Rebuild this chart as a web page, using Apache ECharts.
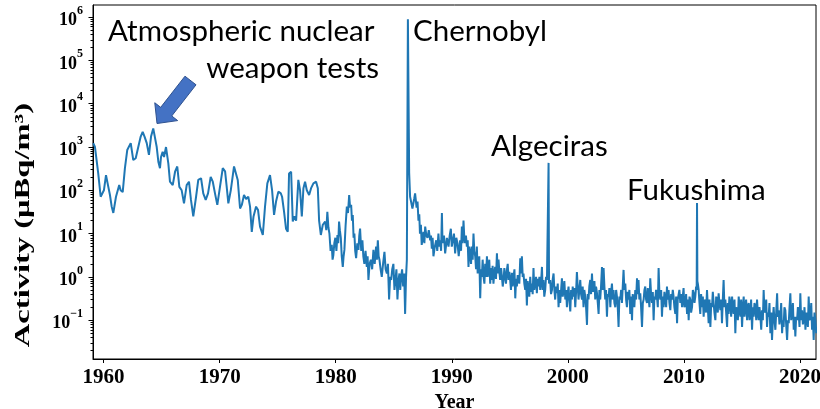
<!DOCTYPE html>
<html>
<head>
<meta charset="utf-8">
<script src="https://cdn.jsdelivr.net/npm/echarts@6/dist/echarts.min.js"></script>
<style>
  html, body { margin: 0; padding: 0; background: #fff; }
  #chart { width: 820px; height: 409px; }
</style>
</head>
<body>
<div id="chart"></div>
<script>
// sampling dates (decimal year) and activity in µBq/m3
const years = [
  1959.11, 1959.26, 1959.54, 1959.75, 1959.92, 1960.03, 1960.21, 1960.41, 1960.55, 1960.70,
  1960.84, 1961.07, 1961.35, 1961.47, 1961.65, 1961.84, 1962.04, 1962.34, 1962.56, 1962.77,
  1962.99, 1963.20, 1963.37, 1963.53, 1963.72, 1963.91, 1964.09, 1964.28, 1964.43, 1964.58,
  1964.72, 1964.86, 1964.95, 1965.09, 1965.21, 1965.38, 1965.58, 1965.72, 1965.96, 1966.16,
  1966.35, 1966.53, 1966.73, 1966.93, 1967.16, 1967.36, 1967.53, 1967.73, 1967.97, 1968.16,
  1968.40, 1968.59, 1968.80, 1969.00, 1969.23, 1969.41, 1969.60, 1969.80, 1970.03, 1970.27,
  1970.47, 1970.61, 1970.75, 1970.96, 1971.24, 1971.41, 1971.56, 1971.76, 1971.91, 1972.10,
  1972.28, 1972.47, 1972.62, 1972.77, 1972.92, 1973.14, 1973.31, 1973.48, 1973.72, 1973.91,
  1974.11, 1974.34, 1974.52, 1974.69, 1974.86, 1975.06, 1975.27, 1975.38, 1975.55, 1975.72,
  1975.87, 1975.98, 1976.16, 1976.30, 1976.44, 1976.59, 1976.78, 1976.93, 1977.08, 1977.22,
  1977.36, 1977.51, 1977.71, 1977.88, 1978.08, 1978.31, 1978.46, 1978.57, 1978.72, 1978.89,
  1979.09, 1979.19, 1979.28, 1979.37, 1979.46, 1979.56, 1979.66, 1979.73, 1979.80, 1979.88,
  1979.97, 1980.06, 1980.15, 1980.22, 1980.29, 1980.36, 1980.44, 1980.52, 1980.61, 1980.68,
  1980.75, 1980.85, 1980.96, 1981.06, 1981.16, 1981.24, 1981.33, 1981.40, 1981.47, 1981.54,
  1981.61, 1981.68, 1981.76, 1981.86, 1981.96, 1982.03, 1982.10, 1982.20, 1982.30, 1982.38,
  1982.47, 1982.57, 1982.68, 1982.75, 1982.82, 1982.92, 1983.03, 1983.14, 1983.25, 1983.36,
  1983.48, 1983.55, 1983.63, 1983.70, 1983.77, 1983.87, 1983.97, 1984.08, 1984.20, 1984.30,
  1984.41, 1984.50, 1984.60, 1984.69, 1984.78, 1984.87, 1984.97, 1985.06, 1985.15, 1985.23,
  1985.32, 1985.40, 1985.49, 1985.56, 1985.64, 1985.72, 1985.81, 1985.90, 1985.98, 1986.06,
  1986.13, 1986.22, 1986.33, 1986.41, 1986.61, 1986.76, 1986.84,
  1986.97, 1987.05, 1987.13, 1987.20, 1987.26, 1987.34, 1987.41, 1987.49, 1987.56, 1987.64,
  1987.71, 1987.81, 1987.91, 1988.02, 1988.14, 1988.21, 1988.28, 1988.35, 1988.42, 1988.54,
  1988.66, 1988.75, 1988.85, 1988.92, 1989.00, 1989.08, 1989.15, 1989.19, 1989.23, 1989.33,
  1989.43, 1989.58, 1989.72, 1989.82, 1989.92, 1990.00, 1990.09, 1990.19, 1990.29, 1990.39,
  1990.49, 1990.60, 1990.72, 1990.80, 1990.87, 1990.94, 1991.01, 1991.08, 1991.15, 1991.22,
  1991.30, 1991.37, 1991.44, 1991.51, 1991.59, 1991.66, 1991.73, 1991.80, 1991.87, 1991.94,
  1992.02, 1992.09, 1992.16, 1992.23, 1992.30, 1992.37, 1992.45, 1992.52, 1992.59, 1992.66,
  1992.74, 1992.81, 1992.88, 1992.95, 1993.03, 1993.09, 1993.16, 1993.23, 1993.31, 1993.38,
  1993.46, 1993.52, 1993.59, 1993.66, 1993.74, 1993.81, 1993.89, 1993.96, 1994.03, 1994.10,
  1994.17, 1994.25, 1994.32, 1994.39, 1994.46, 1994.53, 1994.60, 1994.67, 1994.75, 1994.82,
  1994.89, 1994.96, 1995.03, 1995.10, 1995.18, 1995.25, 1995.32, 1995.40, 1995.47, 1995.54,
  1995.61, 1995.68, 1995.75, 1995.82, 1995.90, 1995.97, 1996.04, 1996.11, 1996.18, 1996.25,
  1996.33, 1996.40, 1996.47, 1996.54, 1996.61, 1996.68, 1996.76, 1996.83, 1996.90, 1996.97,
  1997.04, 1997.11, 1997.19, 1997.26, 1997.33, 1997.40, 1997.47, 1997.55, 1997.62, 1997.70,
  1997.77, 1997.83, 1997.90, 1997.97, 1998.05, 1998.12, 1998.20, 1998.30, 1998.34, 1998.38,
  1998.48, 1998.55, 1998.63, 1998.70, 1998.77, 1998.84, 1998.91, 1998.98, 1999.06, 1999.13,
  1999.20, 1999.27, 1999.34, 1999.41, 1999.49, 1999.56, 1999.63, 1999.70, 1999.78, 1999.85,
  1999.92, 1999.99, 2000.06, 2000.13, 2000.21, 2000.28, 2000.35, 2000.42, 2000.49, 2000.56,
  2000.64, 2000.71, 2000.78, 2000.85, 2000.92, 2000.99, 2001.07, 2001.14, 2001.22, 2001.28,
  2001.35, 2001.42, 2001.50, 2001.57, 2001.65, 2001.71, 2001.78, 2001.85, 2001.93, 2002.00,
  2002.08, 2002.15, 2002.22, 2002.29, 2002.36, 2002.43, 2002.51, 2002.58, 2002.65, 2002.72,
  2002.79, 2002.86, 2002.94, 2003.01, 2003.08, 2003.15, 2003.22, 2003.29, 2003.37, 2003.44,
  2003.51, 2003.58, 2003.66, 2003.73, 2003.80, 2003.87, 2003.94, 2004.01, 2004.09, 2004.16,
  2004.23, 2004.30, 2004.37, 2004.44, 2004.52, 2004.59, 2004.66, 2004.73, 2004.80, 2004.87,
  2004.95, 2005.02, 2005.09, 2005.16, 2005.23, 2005.30, 2005.38, 2005.45, 2005.53, 2005.59,
  2005.66, 2005.73, 2005.81, 2005.88, 2005.96, 2006.02, 2006.09, 2006.16, 2006.24, 2006.31,
  2006.39, 2006.46, 2006.53, 2006.60, 2006.67, 2006.74, 2006.82, 2006.89, 2006.96, 2007.03,
  2007.10, 2007.17, 2007.25, 2007.32, 2007.39, 2007.46, 2007.53, 2007.60, 2007.68, 2007.75,
  2007.82, 2007.89, 2007.97, 2008.04, 2008.11, 2008.18, 2008.25, 2008.32, 2008.40, 2008.47,
  2008.54, 2008.61, 2008.68, 2008.75, 2008.83, 2008.90, 2008.97, 2009.04, 2009.11, 2009.18,
  2009.26, 2009.33, 2009.41, 2009.47, 2009.54, 2009.61, 2009.69, 2009.76, 2009.84, 2009.90,
  2009.97, 2010.04, 2010.12, 2010.19, 2010.27, 2010.34, 2010.41, 2010.48, 2010.55, 2010.62,
  2010.70, 2010.77, 2010.84, 2010.91, 2010.98, 2011.05, 2011.10, 2011.13, 2011.16, 2011.20,
  2011.27, 2011.34, 2011.41, 2011.48, 2011.56, 2011.63, 2011.70, 2011.77, 2011.84, 2011.91,
  2011.99, 2012.06, 2012.13, 2012.20, 2012.28, 2012.35, 2012.42, 2012.49, 2012.56, 2012.63,
  2012.71, 2012.78, 2012.85, 2012.92, 2012.99, 2013.06, 2013.14, 2013.21, 2013.28, 2013.35,
  2013.42, 2013.49, 2013.57, 2013.64, 2013.72, 2013.78, 2013.85, 2013.92, 2014.00, 2014.07,
  2014.15, 2014.21, 2014.28, 2014.36, 2014.43, 2014.50, 2014.58, 2014.65, 2014.72, 2014.79,
  2014.86, 2014.93, 2015.01, 2015.08, 2015.15, 2015.22, 2015.29, 2015.36, 2015.44, 2015.51,
  2015.58, 2015.65, 2015.72, 2015.79, 2015.87, 2015.94, 2016.01, 2016.08, 2016.16, 2016.23,
  2016.30, 2016.37, 2016.44, 2016.51, 2016.59, 2016.66, 2016.73, 2016.80, 2016.87, 2016.94,
  2017.02, 2017.09, 2017.16, 2017.23, 2017.30, 2017.37, 2017.45, 2017.52, 2017.59, 2017.66,
  2017.73, 2017.80, 2017.88, 2017.95, 2018.03, 2018.09, 2018.16, 2018.23, 2018.31, 2018.38,
  2018.46, 2018.52, 2018.59, 2018.66, 2018.74, 2018.81, 2018.89, 2018.96, 2019.03, 2019.10,
  2019.17, 2019.24, 2019.32, 2019.39, 2019.46, 2019.53, 2019.60, 2019.67, 2019.75, 2019.82,
  2019.89, 2019.96, 2020.03, 2020.10, 2020.18, 2020.25, 2020.32, 2020.39, 2020.47, 2020.54,
  2020.61, 2020.68, 2020.75, 2020.82, 2020.90, 2020.97, 2021.04, 2021.11, 2021.18, 2021.25,
  2021.33, 2021.40, 2021.47
];
const activity = [
  1230, 1000, 245, 71, 66, 100, 224, 120, 78, 42,
  30, 71, 132, 100, 91, 324, 850, 1230, 500, 550,
  1000, 1740, 2240, 1740, 1230, 660, 1740, 2690, 2500, 1000,
  457, 324, 590, 776, 590, 1000, 417, 158, 132, 269,
  355, 120, 100, 50, 132, 158, 60, 25, 71, 174,
  190, 85, 60, 85, 204, 158, 85, 46, 120, 324,
  275, 120, 50, 100, 355, 380, 174, 38, 46, 78,
  63, 71, 42, 11, 25, 42, 35, 14.5, 9.3, 42,
  145, 224, 100, 27, 55, 93, 85, 71, 32, 13,
  11, 245, 269, 19, 25, 20, 174, 100, 25, 112,
  158, 100, 78, 112, 145, 158, 112, 20, 9.3, 16,
  19, 12, 32, 14, 10, 4, 5.5, 2.5, 3.2, 6,
  8, 4, 9.3, 6, 19, 12, 8, 3, 1.7, 3,
  4.2, 15, 42, 30, 78, 40, 46, 20, 27, 8,
  10, 4, 2.7, 6, 4.2, 9, 13, 4, 7, 3,
  2, 4, 1.7, 3, 0.85, 2, 2.5, 1.5, 4.2, 2,
  5, 2.5, 7, 3, 2.5, 1.5, 1, 2, 3.8, 1.5,
  1.2, 2, 0.3, 1, 0.85, 1.5, 2, 0.5, 0.85, 1.5,
  0.3, 0.8, 1.2, 0.5, 1, 1.5, 0.6, 1.2, 0.14, 1,
  2.5, 890000, 250, 71, 38, 63, 85,
  40, 55, 20, 28, 10, 16, 5.5, 8, 11, 6,
  14.5, 9, 8, 12, 7, 9, 4.5, 8, 3, 5,
  7, 4, 10, 5, 7, 4, 30, 9, 6, 9,
  3.5, 8, 5, 9, 13, 5, 7, 10, 3.5, 8,
  6, 3, 7, 4, 14.5, 6, 20, 8, 6, 9,
  5, 7, 1.7, 5, 3.5, 2, 5, 2.5, 10, 4,
  3, 1.5, 5, 1.2, 2, 3, 0.32, 1.5, 1, 2.5,
  1, 0.7, 2, 1, 3, 1, 1.45, 2.5, 0.7, 1.6,
  0.85, 1.8, 0.7, 1.2, 1.7, 0.9, 3.5, 1.2, 2.5, 1.3,
  0.85, 1.6, 1, 0.6, 0.85, 1.6, 1.45, 0.7, 1.45, 2,
  0.85, 1.3, 0.85, 0.5, 1.25, 0.6, 1, 1.5, 0.32, 0.9,
  0.6, 1.1, 1.2, 0.7, 2.7, 1.2, 3, 1, 1.2, 0.7,
  0.5, 0.9, 0.22, 0.8, 0.5, 0.35, 1, 0.45, 0.7, 0.4,
  1.6, 0.5, 0.7, 1, 0.42, 0.9, 0.6, 1, 0.5, 0.8,
  1.7, 0.5, 0.85, 0.35, 0.5, 1, 0.85, 0.9, 430, 0.7,
  0.85, 0.4, 0.5, 0.9, 1.2, 0.5, 0.3, 0.6, 0.42, 0.7,
  0.2, 0.5, 0.25, 0.45, 0.93, 0.35, 0.5, 0.8, 0.3, 0.5,
  0.2, 0.4, 0.6, 0.3, 0.16, 0.5, 0.3, 0.6, 0.35, 0.55,
  0.2, 0.45, 1.3, 0.6, 0.3, 0.5, 0.85, 0.4, 0.3, 0.6,
  0.2, 0.5, 0.35, 0.2, 0.078, 0.4, 0.3, 0.6, 0.85, 0.4,
  1.2, 0.45, 0.5, 0.8, 0.3, 0.6, 0.42, 0.25, 0.14, 0.5,
  0.3, 0.6, 1.7, 0.5, 1.6, 0.6, 0.3, 0.5, 0.12, 0.4,
  0.35, 0.55, 0.2, 0.45, 0.7, 0.3, 0.5, 0.25, 0.2, 0.5,
  0.35, 0.2, 0.07, 0.35, 0.3, 0.5, 0.25, 0.6, 1.45, 0.5,
  0.7, 0.3, 0.2, 0.45, 0.3, 0.5, 0.14, 0.35, 0.1, 0.4,
  0.3, 0.2, 0.5, 0.3, 0.93, 0.4, 0.85, 0.3, 0.42, 0.2,
  0.07, 0.25, 0.3, 0.5, 0.6, 0.3, 0.25, 0.55, 0.5, 0.2,
  0.93, 0.4, 0.25, 0.45, 0.1, 0.35, 0.3, 0.5, 0.35, 0.2,
  1.6, 0.4, 0.3, 0.5, 0.12, 0.35, 0.2, 0.45, 0.3, 0.2,
  0.6, 0.3, 0.5, 0.25, 0.17, 0.4, 0.3, 0.5, 0.35, 0.2,
  0.14, 0.35, 0.085, 0.3, 0.3, 0.5, 0.25, 0.4, 0.2, 0.35,
  0.55, 0.2, 0.25, 0.4, 0.14, 0.3, 0.1, 0.35, 0.3, 0.15,
  0.2, 0.5, 0.42, 0.25, 0.35, 0.6, 0.5, 51, 0.8, 0.7,
  0.5, 0.25, 0.14, 0.4, 0.2, 0.35, 0.12, 0.25, 0.3, 0.15,
  0.5, 0.2, 0.085, 0.3, 0.07, 0.25, 0.2, 0.45, 0.25, 0.15,
  0.1, 0.35, 0.3, 0.15, 0.42, 0.25, 0.17, 0.3, 0.085, 0.3,
  0.85, 0.2, 0.3, 0.15, 0.07, 0.25, 0.14, 0.35, 0.25, 0.12,
  0.35, 0.2, 0.14, 0.3, 0.05, 0.2, 0.17, 0.1, 0.35, 0.2,
  0.12, 0.3, 0.07, 0.2, 0.35, 0.12, 0.2, 0.3, 0.1, 0.2,
  0.25, 0.1, 0.14, 0.3, 0.06, 0.2, 0.12, 0.25, 0.2, 0.1,
  0.3, 0.15, 0.1, 0.2, 0.12, 0.06, 0.17, 0.1, 0.5, 0.15,
  0.17, 0.3, 0.07, 0.15, 0.12, 0.25, 0.05, 0.15, 0.035, 0.1,
  0.2, 0.1, 0.06, 0.15, 0.42, 0.12, 0.17, 0.08, 0.12, 0.25,
  0.05, 0.1, 0.07, 0.2, 0.17, 0.08, 0.035, 0.1, 0.085, 0.2,
  0.42, 0.1, 0.14, 0.25, 0.06, 0.12, 0.042, 0.12, 0.1, 0.2,
  0.14, 0.07, 0.42, 0.1, 0.17, 0.08, 0.1, 0.2, 0.06, 0.15,
  0.12, 0.07, 0.35, 0.1, 0.12, 0.25, 0.06, 0.12, 0.035, 0.15,
  0.1, 0.05, 0.07
];
const yearTicks = [1960, 1970, 1980, 1990, 2000, 2010, 2020];
const decadeTicks = [0.1, 1, 10, 100, 1000, 10000, 100000, 1000000];
const events = [
  { text: 'Atmospheric nuclear', x: 108, y: 31, align: 'left' },
  { text: 'weapon tests', x: 379, y: 68, align: 'right' },
  { text: 'Chernobyl', x: 413, y: 31, align: 'left' },
  { text: 'Algeciras', x: 491, y: 146, align: 'left' },
  { text: 'Fukushima', x: 627, y: 190, align: 'left' }
];

const yMin = Math.pow(10, -1.896);
const yMax = Math.pow(10, 6.28);
// log minor ticks (2..9 per decade) inside the visible range
const minorTicks = [];
for (let d = -2; d <= 6; d++) {
  for (let k = 2; k <= 9; k++) {
    const v = k * Math.pow(10, d);
    if (v > yMin && v < yMax) minorTicks.push(v);
  }
}

const serif = 'Liberation Serif';

// block arrow pointing at the 1963-64 maximum
function arrowPoints(tail, tip, shaftHalf, headHalf, headLen) {
  const dx = tip[0] - tail[0], dy = tip[1] - tail[1];
  const len = Math.sqrt(dx * dx + dy * dy);
  const ux = dx / len, uy = dy / len, nx = -uy, ny = ux;
  const bx = tip[0] - ux * headLen, by = tip[1] - uy * headLen;
  return [
    [tail[0] + nx * shaftHalf, tail[1] + ny * shaftHalf],
    [bx + nx * shaftHalf, by + ny * shaftHalf],
    [bx + nx * headHalf, by + ny * headHalf],
    tip,
    [bx - nx * headHalf, by - ny * headHalf],
    [bx - nx * shaftHalf, by - ny * shaftHalf],
    [tail[0] - nx * shaftHalf, tail[1] - ny * shaftHalf]
  ];
}

const graphics = events.map(function (e) {
  return {
    type: 'text',
    z: 100,
    style: {
      text: e.text, x: e.x, y: e.y,
      fill: '#000',
      font: '29.5px Lato',
      textAlign: e.align, align: e.align,
      textVerticalAlign: 'middle', verticalAlign: 'middle'
    }
  };
});
graphics.push({
  type: 'polygon',
  z: 100,
  shape: { points: arrowPoints([190.5, 80.5], [157, 123.5], 7, 14.5, 15) },
  style: { fill: '#4472C4', stroke: '#2F528F', lineWidth: 1 }
});
graphics.push({
  type: 'text',
  x: 24, y: 225,
  rotation: Math.PI / 2,
  scaleX: 1.55,
  style: {
    text: 'Activity (\u03BCBq/m\u00B3)',
    fill: '#000',
    font: 'bold 21px "Liberation Serif"',
    textAlign: 'center', align: 'center',
    textVerticalAlign: 'middle', verticalAlign: 'middle'
  }
});

const chart = echarts.init(document.getElementById('chart'));
chart.setOption({
  animation: false,
  backgroundColor: '#fff',
  grid: {
    left: 93, right: 4, top: 5, bottom: 50,
    outerBoundsMode: 'none',
    containLabel: false,
    show: true, borderColor: '#000', borderWidth: 1
  },
  xAxis: {
    type: 'value',
    min: 1959.09,
    max: 2021.38,
    name: 'Year',
    nameLocation: 'middle',
    nameGap: 25,
    nameTextStyle: { fontFamily: serif, fontWeight: 'bold', fontSize: 20, color: '#000' },
    axisLine: { lineStyle: { color: '#000', width: 1 } },
    axisTick: { customValues: yearTicks, length: 4, lineStyle: { color: '#000' } },
    axisLabel: {
      customValues: yearTicks,
      margin: 8,
      fontFamily: serif, fontWeight: 'bold', fontSize: 21, color: '#000',
      formatter: function (v) { return String(v); }
    },
    splitLine: { show: false }
  },
  yAxis: [{
    type: 'log',
    logBase: 10,
    min: yMin,
    max: yMax,
    axisLine: { show: true, lineStyle: { color: '#000', width: 1 } },
    axisTick: { customValues: decadeTicks, length: 4.5, lineStyle: { color: '#000' } },
    axisLabel: {
      customValues: decadeTicks,
      margin: 10,
      formatter: function (v) {
        const e = Math.round(Math.log10(v));
        return '{b|10}{e|' + (e < 0 ? '\u2212' + (-e) : e) + '}';
      },
      rich: {
        b: { fontFamily: serif, fontWeight: 'bold', fontSize: 18, color: '#000', padding: [7, 0, 0, 0] },
        e: { fontFamily: serif, fontWeight: 'bold', fontSize: 12, color: '#000', verticalAlign: 'top' }
      }
    },
    splitLine: { show: false }
  }, {
    type: 'log',
    logBase: 10,
    min: yMin,
    max: yMax,
    position: 'left',
    axisLine: { show: false },
    axisTick: { customValues: minorTicks, length: 2.5, lineStyle: { color: '#000' } },
    axisLabel: { show: false },
    splitLine: { show: false }
  }],
  series: [{
    type: 'line',
    yAxisIndex: 0,
    data: years.map(function (y, i) { return [y, activity[i]]; }),
    showSymbol: false,
    symbol: 'none',
    clip: true,
    lineStyle: { color: '#1f77b4', width: 2 },
    itemStyle: { color: '#1f77b4' }
  }],
  graphic: graphics
});
</script>
</body>
</html>
